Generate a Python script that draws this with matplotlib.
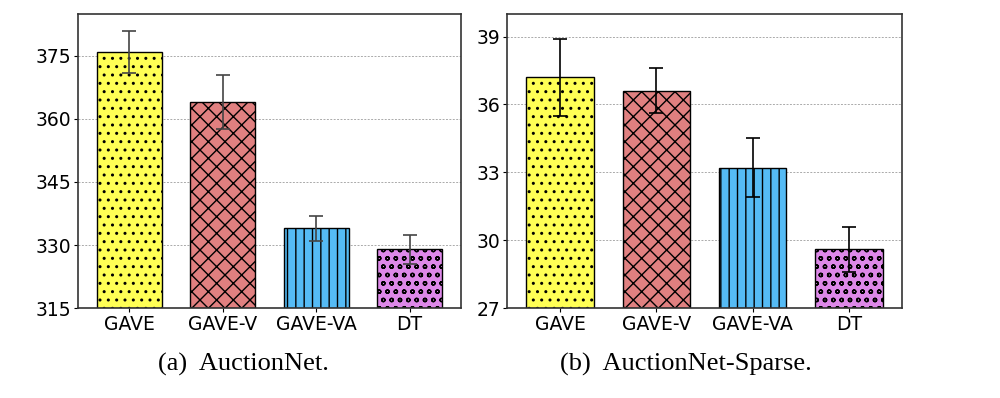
import matplotlib
matplotlib.use("Agg")
import matplotlib.pyplot as plt

methods = ["GAVE", "GAVE-V", "GAVE-VA", "DT"]
auctionnet_mean = [376, 364, 334, 329]
auctionnet_err = [5, 6.5, 3, 3.5]
sparse_mean = [37.2, 36.6, 33.2, 29.6]
sparse_err = [1.7, 1.0, 1.3, 1.0]

colors = ["#FFFF55", "#E08080", "#55BBF5", "#DD88E8"]
hatches = ["..", "xx", "||", "oo"]

plt.rcParams["hatch.linewidth"] = 1.0

fig = plt.figure(figsize=(10, 3.98), dpi=100)
ax1 = fig.add_axes([0.078, 0.226, 0.383, 0.739])
ax2 = fig.add_axes([0.507, 0.226, 0.395, 0.739])


def draw(ax, means, errs, ylim, ticks, ecolor):
    x = range(len(methods))
    bars = ax.bar(x, [m - ylim[0] for m in means], bottom=ylim[0], width=0.7,
                  color=colors, edgecolor="black", linewidth=1.0, zorder=2)
    for b, h in zip(bars, hatches):
        b.set_hatch(h)
    ax.errorbar(x, means, yerr=errs, fmt="none", ecolor=ecolor, elinewidth=1.2,
                capsize=5, capthick=1.2, zorder=3)
    ax.set_ylim(*ylim)
    ax.set_xlim(-0.55, 3.55)
    ax.set_yticks(ticks)
    ax.set_xticks(list(x))
    ax.set_xticklabels(methods)
    ax.tick_params(labelsize=13.5, length=3, pad=2)
    ax.yaxis.grid(True, linestyle=(0, (2, 1.5)), color="#aaaaaa", linewidth=0.7, zorder=0)
    ax.set_axisbelow(True)
    for s in ax.spines.values():
        s.set_color("#333333")
        s.set_linewidth(1.2)


draw(ax1, auctionnet_mean, auctionnet_err, (315, 385), [315, 330, 345, 360, 375], "#444444")
draw(ax2, sparse_mean, sparse_err, (27, 40), [27, 30, 33, 36, 39], "black")

fig.text(0.243, 0.085, "(a)  AuctionNet.", ha="center", va="center",
         fontsize=19, family="Liberation Serif")
fig.text(0.686, 0.085, "(b)  AuctionNet-Sparse.", ha="center", va="center",
         fontsize=19, family="Liberation Serif")

fig.savefig("out.png", dpi=100)
